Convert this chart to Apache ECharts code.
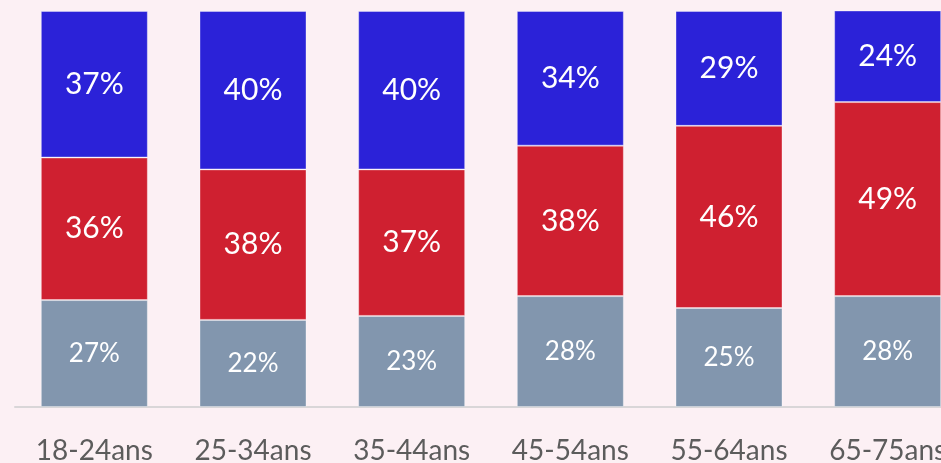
<!DOCTYPE html>
<html>
<head>
<meta charset="utf-8">
<script src="https://cdn.jsdelivr.net/npm/echarts@6/dist/echarts.min.js"></script>
<style>
  html, body { margin: 0; padding: 0; background: #fcf0f4; }
  #chart { width: 941px; height: 463px; }
</style>
</head>
<body>
<div id="chart"></div>
<script>
const categories = [ '18-24ans', '25-34ans', '35-44ans', '45-54ans', '55-64ans', '65-75ans' ]
const greyValues = [ 27, 22, 23, 28, 25, 28 ]
const redValues = [ 36, 38, 37, 38, 46, 49 ]
const blueValues = [ 37, 40, 40, 34, 29, 24 ]

const chart = echarts.init(document.getElementById('chart'))

const fontFamily = 'Lato, "Open Sans", sans-serif'

function labelOption (size) {
  return {
    show: true,
    position: 'inside',
    color: '#ffffff',
    fontFamily: fontFamily,
    fontSize: size,
    formatter: '{c}%'
  }
}

const itemBorder = {
  borderColor: 'rgba(255,255,255,0.35)',
  borderWidth: 1
}

const option = {
  backgroundColor: '#fcf0f4',
  animation: false,
  grid: {
    left: 15,
    top: 11,
    width: 952,
    height: 396,
    outerBoundsMode: 'none',
    containLabel: false
  },
  xAxis: {
    type: 'category',
    data: categories,
    axisTick: { show: false },
    axisLine: { lineStyle: { color: '#d9d6d8', width: 2 } },
    axisLabel: {
      color: '#5c5c5c',
      fontFamily: fontFamily,
      fontSize: 28,
      margin: 30
    }
  },
  yAxis: {
    type: 'value',
    min: 0,
    max: 100,
    show: false
  },
  series: [
    {
      name: 'grey',
      type: 'bar',
      stack: 'total',
      barWidth: 107,
      data: greyValues,
      itemStyle: Object.assign({ color: '#8296ae' }, itemBorder),
      label: labelOption(26)
    },
    {
      name: 'red',
      type: 'bar',
      stack: 'total',
      barWidth: 107,
      data: redValues,
      itemStyle: Object.assign({ color: '#cf2030' }, itemBorder),
      label: labelOption(30)
    },
    {
      name: 'blue',
      type: 'bar',
      stack: 'total',
      barWidth: 107,
      data: blueValues,
      itemStyle: Object.assign({ color: '#2b22d8' }, itemBorder),
      label: labelOption(30)
    }
  ]
}

chart.setOption(option)
</script>
</body>
</html>
